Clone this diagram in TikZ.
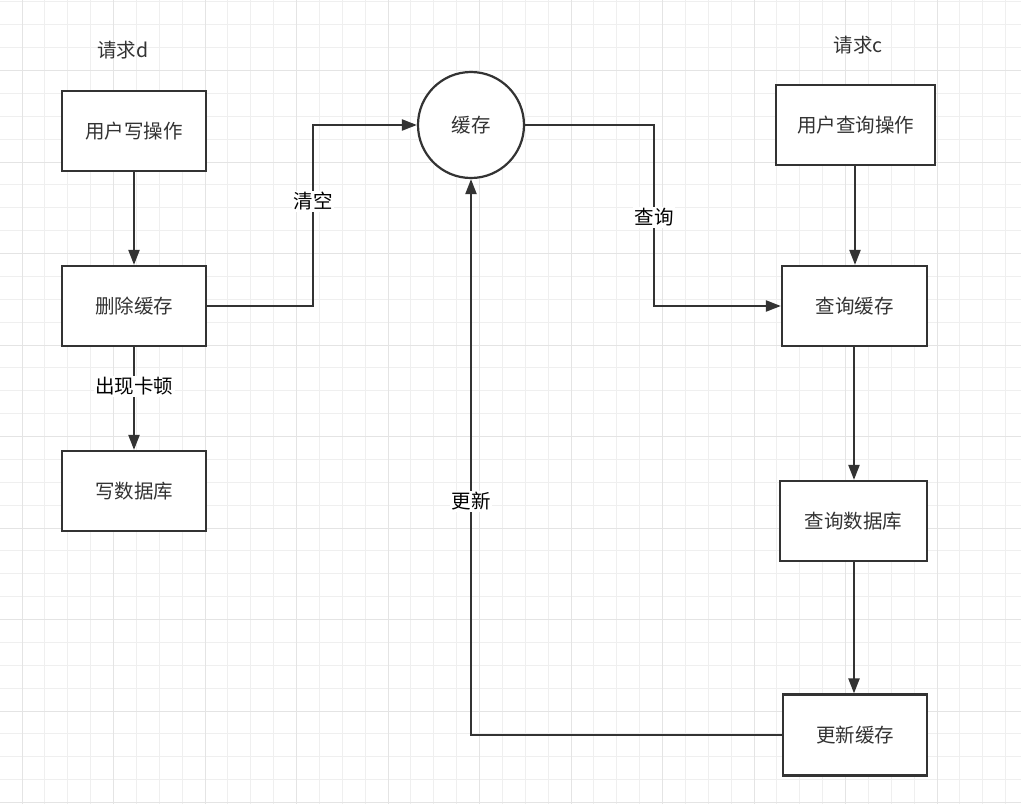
\documentclass[tikz,border=0pt]{standalone}
\usepackage{fontspec}
\setmainfont{Noto Sans CJK SC}
\usetikzlibrary{arrows.meta}
\definecolor{ln}{HTML}{333333}
\definecolor{minorg}{HTML}{EFEFEF}
\definecolor{majorg}{HTML}{E4E4E4}
\tikzset{
  box/.style={draw=ln, line width=2.2pt, fill=white, inner sep=0pt, font=\fontsize{19.5}{22}\selectfont, text=ln},
  conn/.style={draw=ln, line width=2.2pt, -{Triangle[length=15pt,width=11pt]}},
  lbl/.style={fill=white, inner sep=1.5pt, font=\fontsize{19.5}{22}\selectfont, text=black},
  title/.style={font=\fontsize{19.5}{22}\selectfont, text=ln},
  gridminor/.style={minorg, line width=1.3pt},
  gridmajor/.style={majorg, line width=1.3pt}
}
\begin{document}
\begin{tikzpicture}[x=1pt,y=-1pt]
\useasboundingbox (0,0) rectangle (1021,804);
\fill[white] (0,0) rectangle (1021,804);
% grid
\foreach \i in {0,...,45} {
  \pgfmathsetmacro{\xx}{round(-1.375+22.875*\i)+0.5}
  \draw[gridminor] (\xx,0) -- (\xx,804);
}
\foreach \i in {0,...,35} {
  \pgfmathsetmacro{\yy}{round(1.375+22.875*\i)+0.5}
  \draw[gridminor] (0,\yy) -- (1021,\yy);
}
\foreach \i in {0,...,11} {
  \pgfmathsetmacro{\xx}{round(21.5+91.5*\i)+0.5}
  \draw[gridmajor] (\xx,0) -- (\xx,804);
}
\foreach \i in {0,...,9} {
  \pgfmathsetmacro{\yy}{round(70+91.5*\i)+0.5}
  \draw[gridmajor] (0,\yy) -- (1021,\yy);
}
% titles
\node[title] (td) at (123,50) {请求d};
\node[title] (tc) at (858,45) {请求c};
% left column
\node[box, minimum width=144pt, minimum height=80pt] (w1) at (134,131) {用户写操作};
\node[box, minimum width=144pt, minimum height=80pt] (w2) at (134,306) {删除缓存};
\node[box, minimum width=144pt, minimum height=80pt] (w3) at (134,491) {写数据库};
% cache
\node[box, circle, minimum size=106pt] (cache) at (471,125) {缓存};
% right column
\node[box, minimum width=159pt, minimum height=80pt] (r1) at (855.5,125) {用户查询操作};
\node[box, minimum width=145pt, minimum height=80pt] (r2) at (854.5,306) {查询缓存};
\node[box, minimum width=147pt, minimum height=80pt] (r3) at (853.5,521) {查询数据库};
\node[box, minimum width=144pt, minimum height=81pt] (r4) at (855,735) {更新缓存};
% connectors
\draw[conn] (w1) -- (w2);
\draw[conn] (w2) -- node[lbl, pos=0.38] {出现卡顿} (w3);
\coordinate (c1) at (313,306);
\coordinate (c2) at (313,125);
\draw[conn] (w2.east) -- (c1) -- node[lbl, pos=0.58] {清空} (c2) -- (cache.west);
\coordinate (c3) at (654,125);
\coordinate (c4) at (654,306);
\draw[conn] (cache.east) -- (c3) -- node[lbl, pos=0.51] {查询} (c4) -- (r2.west);
\draw[conn] (r1.south -| 855,0) -- (r2.north -| 855,0);
\draw[conn] (r2.south -| 854,0) -- (r3.north -| 854,0);
\draw[conn] (r3.south -| 854,0) -- (r4.north -| 854,0);
\coordinate (c5) at (471,735);
\draw[conn] (r4.west) -- (c5) -- node[lbl, pos=0.42] {更新} (cache.south);
\end{tikzpicture}
\end{document}
